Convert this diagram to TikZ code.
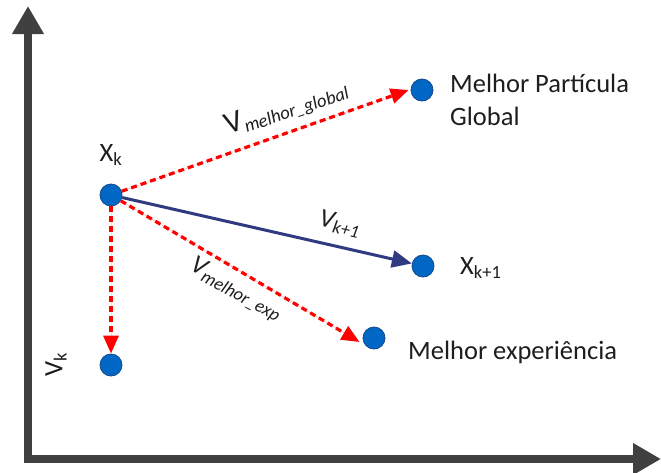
\documentclass[tikz,border=0pt]{standalone}
\usepackage{fontspec}
\setmainfont{Carlito}
\usepackage{tikz}
\usetikzlibrary{arrows.meta,positioning,calc}
\definecolor{axisgrey}{RGB}{64,64,64}
\definecolor{dotblue}{RGB}{0,104,196}
\definecolor{dotedge}{RGB}{20,70,140}
\definecolor{vecnavy}{RGB}{47,58,128}
\definecolor{vecred}{RGB}{255,0,0}
\definecolor{txtgrey}{RGB}{30,30,30}
\tikzset{
  base/.style={font=\fontsize{26.5}{33}\selectfont, text=txtgrey, inner sep=1pt},
  dot/.style={circle, fill=dotblue, draw=dotedge, line width=0.8pt, minimum size=22pt, inner sep=0pt},
  lbl/.style={base},
  vlbl/.style={base, font=\fontsize{26}{30}\selectfont\itshape},
  axis/.style={line width=8pt, draw=axisgrey, -{Triangle[length=28pt,width=30pt]}},
  arrb/.style={-{Triangle[length=20pt,width=17pt]}, line width=3pt, draw=vecnavy},
  arrd/.style={-{Triangle[length=18pt,width=15pt]}, line width=3.2pt, draw=vecred, dash pattern=on 6pt off 4pt, fill=vecred},
}
\begin{document}
\begin{tikzpicture}[x=1pt,y=-1pt]
  \useasboundingbox (0,0) rectangle (661,472);
  % axes
  \coordinate (origin) at (28,459);
  \coordinate (ytip) at (28,6);
  \coordinate (xtip) at (661,459);
  \draw[axis] (origin) -- (ytip);
  \draw[axis] ([xshift=-4pt]origin) -- (xtip);
  % particles
  \node[dot] (xk) at (111,195) {};
  \node[dot] (vk) at (111,365) {};
  \node[dot] (xk1) at (423,266) {};
  \node[dot] (mexp) at (374,338) {};
  \node[dot] (mglob) at (422,90) {};
  % texts
  \node[lbl] (xklbl) at (111,155) {X\textsubscript{k}};
  \node[lbl, rotate=90] (vklbl) at (56,365) {V\textsubscript{k}};
  \node[lbl, anchor=west] (xk1lbl) at (459,268) {X\textsubscript{k+1}};
  \node[lbl, anchor=west] (mexplbl) at (407,352) {Melhor experiência};
  \node[lbl, anchor=north west, align=left] (mgloblbl) at (449,73) {Melhor Partícula\\Global};
  % vectors
  \draw[arrb] (xk) -- (xk1);
  \draw[arrd] (xk) -- ([xshift=-2pt]mglob.west);
  \draw[arrd] (xk) -- ([shift={(-3pt,-4pt)}]mexp.west);
  \draw[arrd] (xk) -- (vk.north);
  \node[lbl, rotate=18.7] (vglob) at (287,108) {{\fontsize{31}{35}\selectfont V}\textsubscript{\itshape melhor\_global}};
  \node[vlbl, rotate=-12.8] (vk1) at (340,224) {V\textsubscript{k+1}};
  \node[vlbl, rotate=-28.5] (vexp) at (236,290) {V\textsubscript{melhor\_exp}};
\end{tikzpicture}
\end{document}
